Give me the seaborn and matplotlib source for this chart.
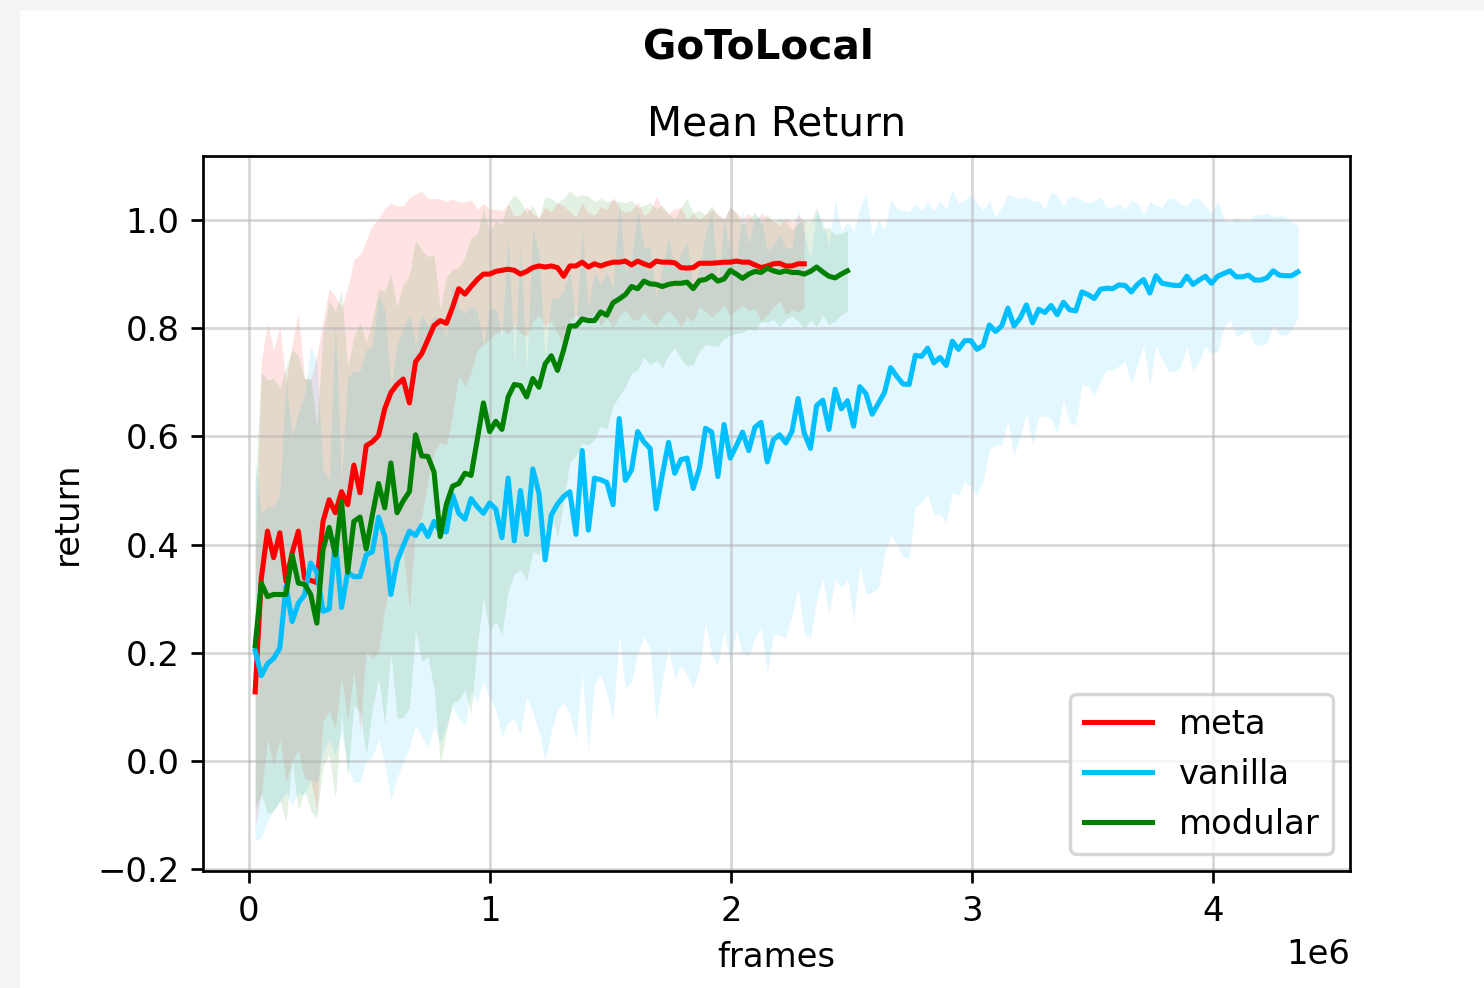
import matplotlib
matplotlib.use("Agg")
import matplotlib.pyplot as plt
from matplotlib.patches import Rectangle
import numpy as np
import seaborn as sns

# logged every 25600 frames
frame_step = 25600

labels = ["meta", "vanilla", "modular"]
colors = ["red", "deepskyblue", "green"]

meta_mean = [
    0.128, 0.338, 0.425, 0.376, 0.422, 0.332, 0.385, 0.425, 0.338, 0.334,
    0.330, 0.443, 0.483, 0.459, 0.498, 0.474, 0.547, 0.496, 0.583, 0.590,
    0.602, 0.651, 0.681, 0.696, 0.706, 0.662, 0.738, 0.753, 0.779, 0.805,
    0.814, 0.809, 0.839, 0.873, 0.863, 0.877, 0.890, 0.900, 0.900, 0.905,
    0.907, 0.909, 0.907, 0.900, 0.905, 0.912, 0.915, 0.913, 0.915, 0.912,
    0.896, 0.915, 0.915, 0.922, 0.913, 0.919, 0.915, 0.919, 0.922, 0.922,
    0.924, 0.917, 0.924, 0.919, 0.915, 0.924, 0.922, 0.922, 0.921, 0.912,
    0.911, 0.912, 0.920, 0.920, 0.920, 0.921, 0.922, 0.922, 0.924, 0.922,
    0.922, 0.917, 0.912, 0.915, 0.919, 0.920, 0.915, 0.915, 0.919, 0.919,
]
meta_std = [
    0.25, 0.40, 0.385, 0.385, 0.38, 0.37, 0.385, 0.405, 0.37, 0.37,
    0.42, 0.37, 0.39, 0.40, 0.34, 0.40, 0.38, 0.44, 0.38, 0.40,
    0.40, 0.37, 0.35, 0.33, 0.32, 0.38, 0.31, 0.30, 0.26, 0.235,
    0.225, 0.225, 0.20, 0.16, 0.17, 0.16, 0.13, 0.13, 0.12, 0.115,
    0.11, 0.12, 0.10, 0.11, 0.12, 0.10, 0.09, 0.11, 0.10, 0.12,
    0.13, 0.10, 0.09, 0.11, 0.10, 0.09, 0.11, 0.10, 0.12, 0.10,
    0.09, 0.10, 0.11, 0.09, 0.10, 0.12, 0.10, 0.09, 0.10, 0.11,
    0.09, 0.10, 0.08, 0.09, 0.10, 0.09, 0.08, 0.10, 0.09, 0.08,
    0.09, 0.08, 0.10, 0.09, 0.08, 0.07, 0.09, 0.08, 0.09, 0.08,
]

vanilla_mean = [
    0.204, 0.158, 0.180, 0.190, 0.209, 0.323, 0.258, 0.292, 0.307, 0.366,
    0.349, 0.277, 0.281, 0.410, 0.284, 0.349, 0.341, 0.341, 0.381, 0.387,
    0.451, 0.415, 0.308, 0.369, 0.398, 0.425, 0.417, 0.436, 0.415, 0.443,
    0.424, 0.424, 0.492, 0.458, 0.447, 0.485, 0.470, 0.458, 0.477, 0.466,
    0.413, 0.523, 0.407, 0.500, 0.419, 0.540, 0.495, 0.372, 0.455, 0.475,
    0.489, 0.498, 0.419, 0.574, 0.427, 0.523, 0.520, 0.515, 0.474, 0.633,
    0.519, 0.538, 0.609, 0.590, 0.578, 0.466, 0.530, 0.589, 0.532, 0.557,
    0.560, 0.504, 0.541, 0.615, 0.608, 0.526, 0.622, 0.560, 0.583, 0.608,
    0.574, 0.617, 0.626, 0.553, 0.594, 0.603, 0.588, 0.609, 0.670, 0.606,
    0.578, 0.657, 0.667, 0.613, 0.687, 0.651, 0.666, 0.619, 0.692, 0.679,
    0.641, 0.661, 0.681, 0.727, 0.711, 0.697, 0.696, 0.750, 0.748, 0.763,
    0.736, 0.746, 0.731, 0.776, 0.761, 0.777, 0.777, 0.761, 0.768, 0.806,
    0.794, 0.804, 0.837, 0.804, 0.819, 0.843, 0.810, 0.835, 0.829, 0.842,
    0.825, 0.848, 0.834, 0.832, 0.867, 0.862, 0.855, 0.872, 0.874, 0.873,
    0.880, 0.879, 0.867, 0.881, 0.890, 0.865, 0.897, 0.883, 0.881, 0.879,
    0.879, 0.896, 0.881, 0.889, 0.896, 0.883, 0.896, 0.901, 0.906, 0.895,
    0.895, 0.898, 0.889, 0.889, 0.893, 0.906, 0.898, 0.897, 0.897, 0.904,
]
vanilla_std = [
    0.35, 0.30, 0.29, 0.28, 0.285, 0.38, 0.34, 0.35, 0.37, 0.40,
    0.39, 0.26, 0.24, 0.40, 0.23, 0.36, 0.38, 0.38, 0.38, 0.38,
    0.41, 0.42, 0.38, 0.40, 0.40, 0.40, 0.35, 0.39, 0.39, 0.38,
    0.39, 0.36, 0.39, 0.38, 0.38, 0.355, 0.36, 0.31, 0.36, 0.37,
    0.37, 0.45, 0.33, 0.45, 0.30, 0.45, 0.44, 0.37, 0.40, 0.38,
    0.38, 0.41, 0.38, 0.41, 0.41, 0.38, 0.36, 0.39, 0.40, 0.40,
    0.385, 0.39, 0.41, 0.36, 0.37, 0.39, 0.38, 0.38, 0.38, 0.38,
    0.40, 0.37, 0.37, 0.36, 0.41, 0.35, 0.38, 0.38, 0.34, 0.41,
    0.38, 0.39, 0.38, 0.39, 0.36, 0.37, 0.36, 0.34, 0.35, 0.37,
    0.35, 0.36, 0.33, 0.34, 0.35, 0.33, 0.33, 0.36, 0.33, 0.37,
    0.33, 0.34, 0.30, 0.31, 0.31, 0.32, 0.32, 0.28, 0.27, 0.27,
    0.28, 0.29, 0.29, 0.28, 0.27, 0.26, 0.27, 0.27, 0.25, 0.23,
    0.21, 0.22, 0.21, 0.24, 0.22, 0.20, 0.225, 0.20, 0.19, 0.21,
    0.22, 0.18, 0.21, 0.21, 0.17, 0.17, 0.18, 0.17, 0.15, 0.15,
    0.15, 0.14, 0.17, 0.15, 0.12, 0.17, 0.13, 0.14, 0.16, 0.16,
    0.15, 0.13, 0.16, 0.15, 0.13, 0.13, 0.14, 0.10, 0.09, 0.11,
    0.105, 0.10, 0.12, 0.12, 0.12, 0.10, 0.11, 0.11, 0.10, 0.085,
]

modular_mean = [
    0.213, 0.329, 0.304, 0.308, 0.308, 0.308, 0.381, 0.329, 0.327, 0.308,
    0.255, 0.391, 0.432, 0.381, 0.480, 0.349, 0.443, 0.451, 0.392, 0.455,
    0.513, 0.468, 0.551, 0.459, 0.481, 0.498, 0.603, 0.564, 0.563, 0.534,
    0.415, 0.475, 0.508, 0.513, 0.532, 0.528, 0.594, 0.662, 0.609, 0.628,
    0.613, 0.673, 0.696, 0.694, 0.673, 0.707, 0.691, 0.734, 0.749, 0.722,
    0.760, 0.804, 0.804, 0.817, 0.814, 0.814, 0.830, 0.824, 0.847, 0.854,
    0.862, 0.877, 0.873, 0.887, 0.882, 0.881, 0.877, 0.881, 0.883, 0.883,
    0.885, 0.873, 0.888, 0.890, 0.897, 0.887, 0.891, 0.907, 0.900, 0.892,
    0.900, 0.905, 0.903, 0.911, 0.906, 0.903, 0.906, 0.903, 0.903, 0.900,
    0.905, 0.913, 0.904, 0.896, 0.893, 0.900, 0.906,
]
modular_std = [
    0.30, 0.39, 0.40, 0.40, 0.38, 0.42, 0.38, 0.42, 0.38, 0.40,
    0.36, 0.40, 0.42, 0.45, 0.39, 0.38, 0.34, 0.36, 0.38, 0.36,
    0.36, 0.40, 0.35, 0.38, 0.40, 0.40, 0.36, 0.38, 0.37, 0.40,
    0.42, 0.42, 0.40, 0.40, 0.40, 0.44, 0.38, 0.36, 0.37, 0.37,
    0.38, 0.36, 0.35, 0.34, 0.34, 0.32, 0.31, 0.31, 0.29, 0.31,
    0.28, 0.25, 0.24, 0.23, 0.23, 0.22, 0.21, 0.21, 0.19, 0.18,
    0.17, 0.16, 0.15, 0.14, 0.15, 0.14, 0.15, 0.13, 0.12, 0.14,
    0.155, 0.14, 0.13, 0.12, 0.13, 0.12, 0.11, 0.12, 0.11, 0.10,
    0.10, 0.11, 0.09, 0.10, 0.09, 0.10, 0.09, 0.08, 0.09, 0.10,
    0.09, 0.11, 0.08, 0.09, 0.08, 0.075, 0.075,
]

runs = [
    (meta_mean, meta_std),
    (vanilla_mean, vanilla_std),
    (modular_mean, modular_std),
]

dpi = 244
fig, ax = plt.subplots(figsize=(1484 / dpi, 988 / dpi), dpi=dpi)
fig.subplots_adjust(left=0.1368, right=0.9097, top=0.842, bottom=0.1184)

# light grey margin on the left and top of the screenshot
fig.patches.append(Rectangle((0, 0), 18 / 1484, 1, transform=fig.transFigure,
                             color="#f4f4f4", zorder=-1))
fig.patches.append(Rectangle((0, 1 - 8 / 988), 1, 8 / 988, transform=fig.transFigure,
                             color="#f4f4f4", zorder=-1))

# bands first so the lines sit on top
for (mean, std), c in zip(runs, colors):
    mean = np.array(mean)
    std = np.array(std)
    frames = np.arange(1, len(mean) + 1) * frame_step
    ax.fill_between(frames, mean - std, mean + std, color=c, alpha=0.11, linewidth=0)

for (mean, std), c, lab in zip(runs, colors, labels):
    frames = np.arange(1, len(mean) + 1) * frame_step
    sns.lineplot(ax=ax, x=frames, y=mean, color=c, label=lab, linewidth=1.5)

ax.set_ylim(-0.203, 1.118)
ax.grid(True, alpha=0.5)
ax.set_xlabel("frames")
ax.set_ylabel("return")
ax.set_title("Mean Return")
ax.legend(loc="lower right")

fig.suptitle("GoToLocal", fontweight="bold", x=0.511, y=0.972)
fig.savefig("out.png", dpi=dpi)
